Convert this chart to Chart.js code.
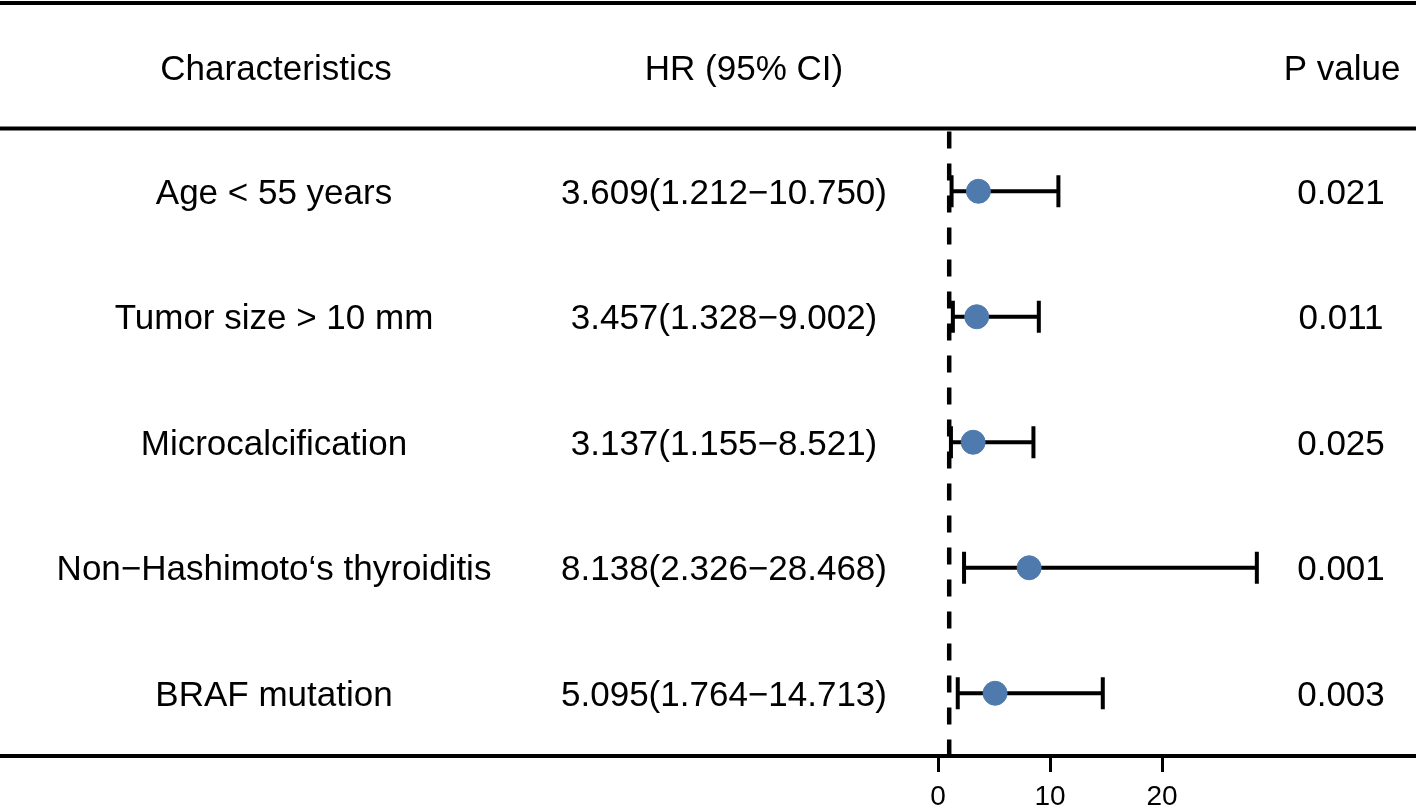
<!DOCTYPE html>
<html lang="en">
<head>
    <meta charset="UTF-8">
    <title>Forest plot</title>
    <script src="https://cdn.jsdelivr.net/npm/chart.js"></script>
    <style>
        html, body { margin: 0; padding: 0; background: #ffffff; }
        canvas { display: block; }
    </style>
</head>
<body>
    <canvas id="forest" width="1416" height="810"></canvas>

    <script>
        // data
        const characteristics = ["Age < 55 years", "Tumor size > 10 mm", "Microcalcification", "Non\u2212Hashimoto\u2018s thyroiditis", "BRAF mutation"];
        const hr = [3.609, 3.457, 3.137, 8.138, 5.095];
        const lower = [1.212, 1.328, 1.155, 2.326, 1.764];
        const upper = [10.750, 9.002, 8.521, 28.468, 14.713];
        const pValues = ["0.021", "0.011", "0.025", "0.001", "0.003"];
        const headers = ["Characteristics", "HR (95% CI)", "P value"];
        const xTicks = [0, 10, 20];
        const refLine = 1;

        const FONT = "35px 'Liberation Sans', Arial, sans-serif";
        const rowIdx = characteristics.map((_, i) => i + 1);
        const hrText = hr.map((v, i) => v.toFixed(3) + "(" + lower[i].toFixed(3) + "\u2212" + upper[i].toFixed(3) + ")");

        const tablePlugin = {
            id: "table",
            beforeDatasetsDraw(chart) {
                const { ctx, scales: { x, y }, width } = chart;
                ctx.save();

                // horizontal rules
                ctx.strokeStyle = "#000";
                ctx.lineWidth = 4;
                [-0.5, 0.5, 5.5].forEach(v => {
                    const py = y.getPixelForValue(v);
                    ctx.beginPath();
                    ctx.moveTo(0, py);
                    ctx.lineTo(width, py);
                    ctx.stroke();
                });

                // reference line at HR = 1
                ctx.setLineDash([17, 15]);
                ctx.lineWidth = 4.5;
                ctx.beginPath();
                ctx.moveTo(x.getPixelForValue(refLine), y.getPixelForValue(0.5) + 3);
                ctx.lineTo(x.getPixelForValue(refLine), y.getPixelForValue(5.5));
                ctx.stroke();
                ctx.setLineDash([]);

                // confidence intervals
                ctx.lineWidth = 4;
                rowIdx.forEach((r, i) => {
                    const py = y.getPixelForValue(r);
                    const x1 = x.getPixelForValue(lower[i]);
                    const x2 = x.getPixelForValue(upper[i]);
                    ctx.beginPath();
                    ctx.moveTo(x1, py);
                    ctx.lineTo(x2, py);
                    ctx.moveTo(x1, py - 16);
                    ctx.lineTo(x1, py + 16);
                    ctx.moveTo(x2, py - 16);
                    ctx.lineTo(x2, py + 16);
                    ctx.stroke();
                });

                // text columns
                ctx.fillStyle = "#000";
                ctx.font = FONT;
                ctx.textAlign = "center";
                ctx.textBaseline = "middle";
                const hy = y.getPixelForValue(0) + 5;
                ctx.fillText(headers[0], 276, hy);
                ctx.fillText(headers[1], 744, hy);
                ctx.fillText(headers[2], 1342, hy);
                rowIdx.forEach((r, i) => {
                    const py = y.getPixelForValue(r) + 3;
                    ctx.fillText(characteristics[i], 274, py);
                    ctx.fillText(hrText[i], 724, py);
                    ctx.fillText(pValues[i], 1341, py);
                });
                ctx.restore();
            }
        };

        new Chart(document.getElementById("forest"), {
            type: "scatter",
            data: {
                datasets: [{
                    data: hr.map((v, i) => ({ x: v, y: rowIdx[i] })),
                    backgroundColor: "#4f7aad",
                    borderColor: "#4f7aad",
                    pointRadius: 12,
                    pointHoverRadius: 12
                }]
            },
            options: {
                responsive: false,
                animation: false,
                layout: { autoPadding: false, padding: { left: 938, right: 142, top: 3, bottom: 0 } },
                plugins: {
                    legend: { display: false },
                    tooltip: { enabled: false }
                },
                scales: {
                    x: {
                        type: "linear",
                        min: 0,
                        max: 30,
                        afterBuildTicks: s => { s.ticks = xTicks.map(v => ({ value: v })); },
                        afterFit: s => { s.height = 54; },
                        border: { display: false },
                        grid: {
                            drawOnChartArea: false,
                            drawTicks: true,
                            tickLength: 16,
                            color: "#000",
                            lineWidth: 3
                        },
                        ticks: {
                            color: "#000",
                            padding: 8,
                            font: { family: "'Liberation Sans', Arial, sans-serif", size: 28 }
                        }
                    },
                    y: {
                        display: false,
                        min: -0.5,
                        max: 5.5,
                        reverse: true
                    }
                }
            },
            plugins: [tablePlugin]
        });
    </script>
</body>
</html>
